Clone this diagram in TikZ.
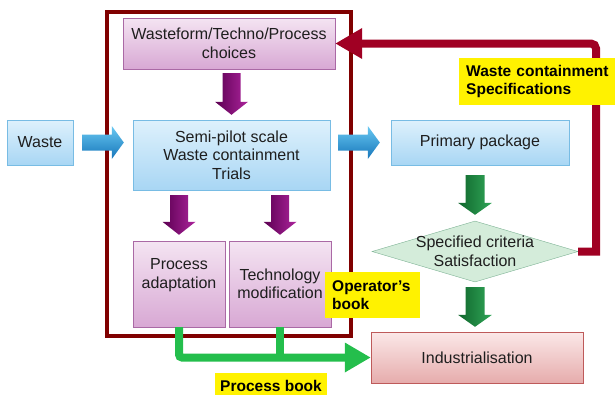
\documentclass[tikz,border=0pt]{standalone}
\usepackage{fontspec}
\setmainfont{Liberation Sans}
\usetikzlibrary{arrows.meta,shapes.geometric,calc}
\definecolor{framecol}{RGB}{128,0,0}
\definecolor{fbcol}{RGB}{160,0,35}
\definecolor{blueA}{RGB}{222,241,252}
\definecolor{blueB}{RGB}{168,214,244}
\definecolor{blueD}{RGB}{120,188,228}
\definecolor{pinkA}{RGB}{244,228,242}
\definecolor{pinkB}{RGB}{216,168,212}
\definecolor{pinkD}{RGB}{170,105,165}
\definecolor{redA}{RGB}{251,232,232}
\definecolor{redB}{RGB}{230,172,172}
\definecolor{redD}{RGB}{190,90,90}
\definecolor{diamF}{RGB}{212,236,218}
\definecolor{diamD}{RGB}{125,178,148}
\definecolor{arrBlueL}{RGB}{105,200,242}
\definecolor{arrBlueD}{RGB}{22,118,186}
\definecolor{arrPurpleD}{RGB}{92,0,82}
\definecolor{arrPurpleL}{RGB}{172,36,156}
\definecolor{arrGreenD}{RGB}{16,102,44}
\definecolor{arrGreenL}{RGB}{48,166,88}
\definecolor{arrGreen}{RGB}{36,190,76}
\definecolor{txt}{RGB}{30,30,30}
\newcommand\blkarrow[6]{%
  \coordinate (bahead) at ($(#3)!#6!(#2)$);
  \shade[#1] ($(#2)!#4!90:(#3)$) -- ($(bahead)!#4!90:(#3)$) -- ($(bahead)!#5!90:(#3)$) -- (#3)
    -- ($(bahead)!#5!-90:(#3)$) -- ($(bahead)!#4!-90:(#3)$) -- ($(#2)!#4!-90:(#3)$) -- cycle;}
\begin{document}
\begin{tikzpicture}[x=1pt,y=-1pt,
  box/.style={draw, rectangle, inner sep=2pt, align=center, text=txt,
    font=\fontsize{16}{18.5}\selectfont},
  bluebox/.style={box, draw=blueD, top color=blueA, bottom color=blueB},
  pinkbox/.style={box, draw=pinkD, top color=pinkA, bottom color=pinkB},
  redbox/.style={box, draw=redD, top color=redA, bottom color=redB},
  boxtext/.style={align=center, text=txt, font=\fontsize{16}{18.5}\selectfont, inner sep=0pt},
  ylab/.style={fill=yellow, inner sep=0pt, align=left,
    font=\bfseries\fontsize{15.5}{18}\selectfont, text=black},
  purplearr/.style={left color=arrPurpleD, right color=arrPurpleL},
  greenarr/.style={left color=arrGreenD, right color=arrGreenL},
  bluearr/.style={top color=arrBlueL, bottom color=arrBlueD},
  fbline/.style={draw=fbcol, line width=8pt, -{Triangle[width=29pt,length=27pt]}},
  gline/.style={draw=arrGreen, line width=8pt},
]
\useasboundingbox (0,0) rectangle (615,394);
\clip (0,0) rectangle (615,394);

% frame
\draw[framecol, line width=4.5pt] (107,12) rectangle (351,336);

% nodes
\node[pinkbox, minimum width=212pt, minimum height=51pt] (wf) at (229,43.5) {Wasteform/Techno/Process\\choices};
\node[bluebox, minimum width=197pt, minimum height=70pt] (semi) at (231.5,155) {Semi-pilot scale\\Waste containment\\Trials};
\node[bluebox, minimum width=66pt, minimum height=45pt] (waste) at (40,142.5) {Waste};
\node[bluebox, minimum width=178pt, minimum height=45pt] (prim) at (480,142.5) {Primary package};
\node[draw=diamD, fill=diamF, diamond, inner sep=0pt, minimum width=206pt, minimum height=61pt] (diam) at (475,251.5) {};
\node[boxtext] (diamtxt) at (diam) {Specified criteria\\Satisfaction};
\node[redbox, minimum width=212pt, minimum height=51pt] (ind) at (477,357.5) {Industrialisation};
\node[pinkbox, minimum width=92pt, minimum height=86pt, inner sep=1pt] (pa) at (179,284) {};
\node[boxtext] (patxt) at ([yshift=9pt]pa.center) {Process\\adaptation};
\node[pinkbox, minimum width=102pt, minimum height=86pt, inner sep=1pt] (tm) at (280,284) {Technology\\modification};

% block arrows
\coordinate (a1s) at ([yshift=-4pt]wf.south -| semi.north);
\coordinate (a1e) at ([yshift=5pt]semi.north);
\blkarrow{purplearr}{a1s}{a1e}{9pt}{16.5pt}{13pt}
\coordinate (a2s) at ([yshift=-5pt]semi.south -| pa.north);
\coordinate (a2e) at ([yshift=6pt]pa.north);
\blkarrow{purplearr}{a2s}{a2e}{9pt}{16.5pt}{13pt}
\coordinate (a3s) at ([yshift=-5pt]semi.south -| tm.north);
\coordinate (a3e) at ([yshift=6pt]tm.north);
\blkarrow{purplearr}{a3s}{a3e}{9pt}{16.5pt}{13pt}
\coordinate (b1s) at ([xshift=9pt]waste.east);
\coordinate (b1e) at ([xshift=-9pt]waste.east -| semi.west);
\blkarrow{bluearr}{b1s}{b1e}{8pt}{16.5pt}{12pt}
\coordinate (b2s) at ([xshift=8pt]prim.west -| semi.east);
\coordinate (b2e) at ([xshift=-11pt]prim.west);
\blkarrow{bluearr}{b2s}{b2e}{8pt}{16.5pt}{12pt}
\coordinate (g1s) at ([yshift=-10pt]prim.south -| diam.north);
\coordinate (g1e) at ([yshift=6pt]diam.north);
\blkarrow{greenarr}{g1s}{g1e}{9.5pt}{17pt}{12pt}
\coordinate (g2s) at ([yshift=-5pt]diam.south);
\coordinate (g2e) at ([yshift=5pt]ind.north -| diam.south);
\blkarrow{greenarr}{g2s}{g2e}{9.5pt}{17pt}{12pt}

% feedback arrow
\coordinate (fbc) at (596,43.5);
\draw[fbline] (diam.east) -- (diam.east -| fbc) [rounded corners=5pt] -- (fbc) -- (wf.east);

% process book arrows
\draw[gline, rounded corners=3pt, -{Triangle[width=28pt,length=26pt]}] (pa.south) |- (ind.west);
\draw[gline] (tm.south) -- (tm.south |- ind.west);

% labels
\node[ylab, anchor=north west, minimum width=165pt, minimum height=47pt, text width=151pt, inner xsep=7pt] (spec) at (459,58) {Waste containment\\Specifications};
\node[ylab, anchor=north west, minimum width=95pt, minimum height=46pt, text width=81pt, inner xsep=7pt] (op) at (325,272) {Operator’s\\book};
\node[ylab, align=center, minimum width=112pt, minimum height=26pt] (pb) at (271,386) {Process book};
\end{tikzpicture}
\end{document}
